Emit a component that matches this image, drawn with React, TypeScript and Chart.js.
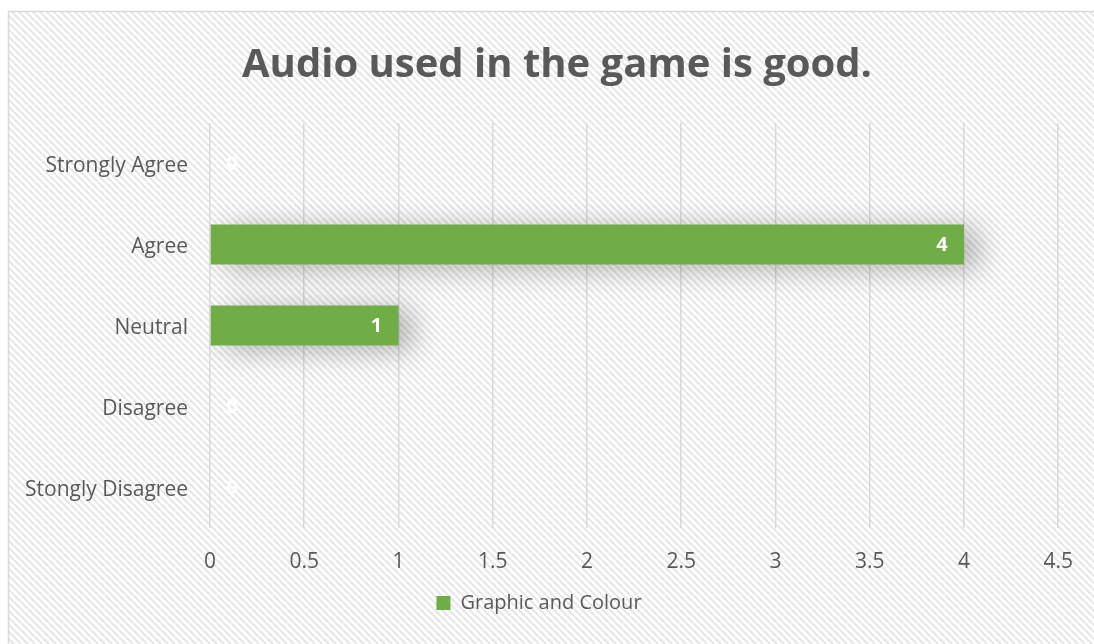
import React, { useEffect, useRef } from "react";
import { Chart, registerables } from "chart.js";

Chart.register(...registerables);

const categories = ["Strongly Agree", "Agree", "Neutral", "Disagree", "Stongly Disagree"];
const seriesName = "Graphic and Colour";
const seriesValues = [0, 4, 1, 0, 0];
const xTicks = [0, 0.5, 1, 1.5, 2, 2.5, 3, 3.5, 4, 4.5];
const titleText = "Audio used in the game is good.";

const FONT = "'Open Sans', 'Liberation Sans', sans-serif";
const TEXT = "#595959";
const GREEN = "#70ad47";

function makePattern(ctx: CanvasRenderingContext2D) {
  const s = 7;
  const c = document.createElement("canvas");
  c.width = s;
  c.height = s;
  const p = c.getContext("2d")!;
  p.fillStyle = "#ffffff";
  p.fillRect(0, 0, s, s);
  p.strokeStyle = "#e6e6e6";
  p.lineWidth = 2;
  for (const k of [-s, 0, s]) {
    p.beginPath();
    p.moveTo(k, 0);
    p.lineTo(k + s, s);
    p.stroke();
  }
  return ctx.createPattern(c, "repeat")!;
}

const backgroundPlugin = {
  id: "bgHatch",
  afterLayout(chart: any) {
    const t = chart.titleBlock;
    if (t) {
      t.left += 36;
    }
  },
  beforeDraw(chart: any) {
    const ctx = chart.ctx as CanvasRenderingContext2D;
    ctx.save();
    ctx.fillStyle = "#ffffff";
    ctx.fillRect(0, 0, chart.width, chart.height);
    ctx.fillStyle = makePattern(ctx);
    ctx.fillRect(9, 12, chart.width, chart.height);
    ctx.strokeStyle = "#d9d9d9";
    ctx.lineWidth = 1.5;
    ctx.strokeRect(8.5, 11.5, chart.width + 10, chart.height + 10);
    ctx.restore();
  },
};

const shadowPlugin = {
  id: "barShadow",
  beforeDatasetsDraw(chart: any) {
    const ctx = chart.ctx as CanvasRenderingContext2D;
    ctx.save();
    ctx.shadowColor = "rgba(0,0,0,0.3)";
    ctx.shadowBlur = 30;
    ctx.shadowOffsetX = 14;
    ctx.shadowOffsetY = 4;
  },
  afterDatasetsDraw(chart: any) {
    chart.ctx.restore();
  },
};

const labelPlugin = {
  id: "valueLabels",
  afterDraw(chart: any) {
    const ctx = chart.ctx as CanvasRenderingContext2D;
    const meta = chart.getDatasetMeta(0);
    const base = chart.scales.x.getPixelForValue(0);
    ctx.save();
    ctx.fillStyle = "#ffffff";
    ctx.font = `bold 20px ${FONT}`;
    ctx.textAlign = "center";
    ctx.textBaseline = "middle";
    meta.data.forEach((bar: any, i: number) => {
      const x = Math.max(bar.x - 22, base + 22);
      ctx.fillText(String(seriesValues[i]), x, bar.y + 1);
    });
    ctx.restore();
  },
};

export default function App() {
  const ref = useRef<HTMLCanvasElement | null>(null);

  useEffect(() => {
    if (!ref.current) return;
    const chart = new Chart(ref.current, {
      type: "bar",
      data: {
        labels: categories,
        datasets: [
          {
            label: seriesName,
            data: seriesValues,
            backgroundColor: GREEN,
            borderWidth: 0,
            categoryPercentage: 1,
            barPercentage: 0.494,
          },
        ],
      },
      plugins: [backgroundPlugin, shadowPlugin, labelPlugin],
      options: {
        indexAxis: "y",
        responsive: false,
        animation: false,
        layout: { padding: { left: 18, right: 34, top: 0, bottom: 21 } },
        scales: {
          x: {
            min: 0,
            max: 4.5,
            afterBuildTicks: (scale: any) => {
              scale.ticks = xTicks.map((v) => ({ value: v }));
            },
            afterFit: (scale: any) => {
              scale.height = 55;
            },
            grid: { color: "#d9d9d9", lineWidth: 1.5, drawTicks: false },
            border: { display: false },
            ticks: {
              color: TEXT,
              font: { family: FONT, size: 21 },
              padding: 21,
              callback: (v: any) => String(v),
            },
          },
          y: {
            afterFit: (scale: any) => {
              scale.width = 192;
            },
            grid: { display: false, drawTicks: false },
            border: { display: false },
            ticks: {
              color: TEXT,
              font: { family: FONT, size: 21 },
              padding: 22,
              labelOffset: 3,
            },
          },
        },
        plugins: {
          title: {
            display: true,
            text: titleText,
            color: TEXT,
            font: { family: FONT, size: 40, weight: "bold", lineHeight: 1.2 },
            padding: { top: 42, bottom: 33 },
          },
          legend: {
            display: true,
            position: "bottom",
            labels: {
              color: TEXT,
              font: { family: FONT, size: 20 },
              boxWidth: 14,
              boxHeight: 14,
              padding: 10,
            },
          },
          tooltip: { enabled: false },
        },
      },
    });
    return () => chart.destroy();
  }, []);

  return (
    <div style={{ position: "absolute", left: 0, top: 0, width: 1094, height: 644 }}>
      <canvas ref={ref} width={1094} height={644} />
    </div>
  );
}
